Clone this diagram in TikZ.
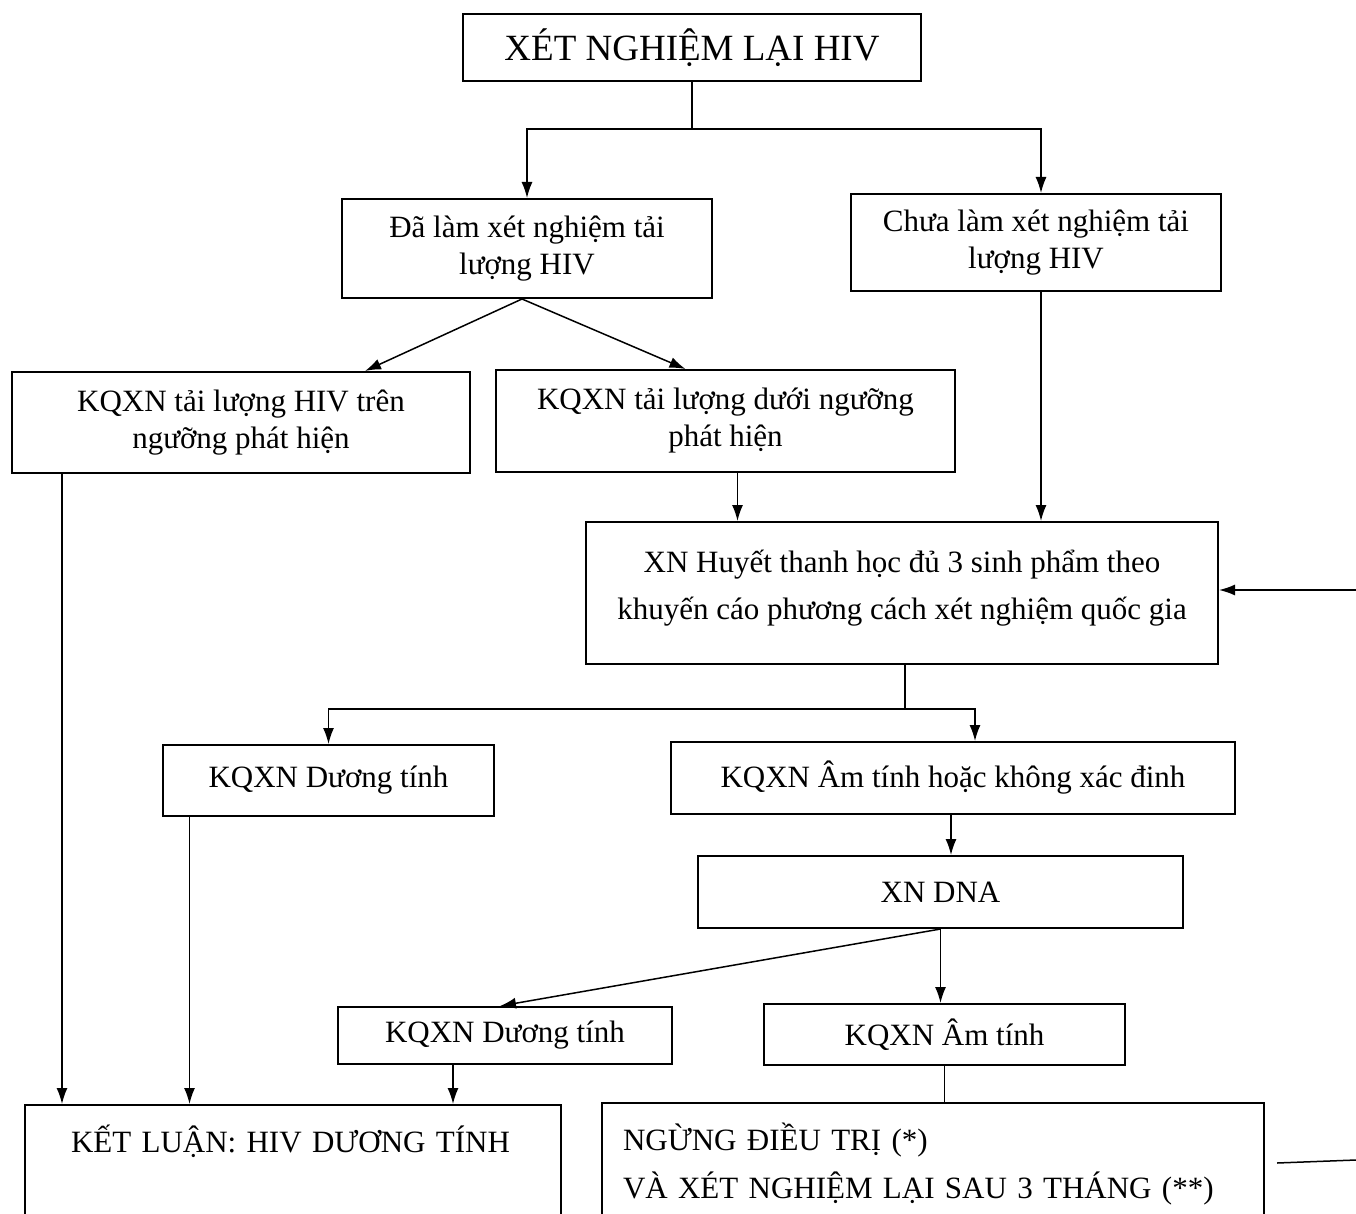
\documentclass[tikz,border=0pt]{standalone}
\usepackage{fontspec}
\setmainfont{Liberation Serif}
\usetikzlibrary{arrows.meta}

\begin{document}
\begin{tikzpicture}[x=1pt, y=-1pt]
  \tikzset{
    flowbox/.style={
      draw=black,
      line width=2pt,
      inner sep=0pt,
      align=center,
      font=\fontsize{31}{37}\selectfont
    },
    arr/.style={line width=1.5pt, -{Latex[length=16pt,width=11pt]}},
    link/.style={line width=1.5pt}
  }
  \useasboundingbox (0,0) rectangle (1356,1214);
  \clip (0,0) rectangle (1356,1214);

  \node[flowbox, minimum width=458pt, minimum height=67pt, font=\fontsize{37}{44}\selectfont] (retest) at (692,47.5) {XÉT NGHIỆM LẠI HIV};
  \node[flowbox, minimum width=370pt, minimum height=99pt] (vlDone) at (527,248.5) {Đã làm xét nghiệm tải\\lượng HIV};
  \node[flowbox, minimum width=370pt, minimum height=97pt] (vlNone) at (1036,242.5) {Chưa làm xét nghiệm tải\\lượng HIV};
  \node[flowbox, minimum width=458pt, minimum height=101pt] (vlAbove) at (241,422.5) {KQXN tải lượng HIV trên\\ngưỡng phát hiện};
  \node[flowbox, minimum width=459pt, minimum height=102pt] (vlBelow) at (725.5,421) {KQXN tải lượng dưới ngưỡng\\phát hiện};
  \node[flowbox, minimum width=632pt, minimum height=142pt, font=\fontsize{31}{47}\selectfont] (serology) at (902,593) {XN Huyết thanh học đủ 3 sinh phẩm theo\\khuyến cáo phương cách xét nghiệm quốc gia\\[-31pt]};
  \node[flowbox, minimum width=331pt, minimum height=71pt] (posA) at (328.5,780.5) {KQXN Dương tính};
  \node[flowbox, minimum width=564pt, minimum height=72pt] (negUnd) at (953,778) {KQXN Âm tính hoặc không xác đinh};
  \node[flowbox, minimum width=485pt, minimum height=72pt] (dna) at (940.5,892) {XN DNA};
  \node[flowbox, minimum width=334pt, minimum height=57pt] (posB) at (505,1035.5) {KQXN Dương tính};
  \node[flowbox, minimum width=361pt, minimum height=61pt] (neg) at (944.5,1034.5) {KQXN Âm tính};
  \node[flowbox, anchor=north west, align=left, inner xsep=46pt, inner ysep=20pt, text width=444pt, text depth=100pt] (conclude) at (24,1104) {KẾT LUẬN: HIV DƯƠNG TÍNH};
  \node[flowbox, anchor=north west, align=left, inner xsep=21pt, inner ysep=20pt, text width=620pt, text depth=60pt, font=\fontsize{31}{48}\selectfont] (stop) at (601,1102) {NGỪNG ĐIỀU TRỊ (*)\\VÀ XÉT NGHIỆM LẠI SAU 3 THÁNG (**)};

  \coordinate (fbIn) at (1356,590);
  \coordinate (fbOut) at (1356,1160);

  \draw[arr] (retest.south) -- ++(0,47) -| (vlDone.north);
  \draw[arr] (retest.south) -- ++(0,47) -| ([xshift=5pt]vlNone.north);
  \draw[arr] ([xshift=-5pt]vlDone.south) -- ([xshift=124pt]vlAbove.north);
  \draw[arr] ([xshift=-5pt]vlDone.south) -- ([xshift=-40pt]vlBelow.north);
  \draw[arr] ([xshift=5pt]vlNone.south) -- ([xshift=5pt]vlNone.south |- serology.north);
  \draw[arr] ([xshift=12pt]vlBelow.south) -- ([xshift=12pt]vlBelow.south |- serology.north);
  \draw[arr] ([xshift=-179pt]vlAbove.south) -- ([xshift=-179pt]vlAbove.south |- conclude.north);
  \draw[arr] (fbIn) -- (fbIn -| serology.east);

  \draw[arr] ([xshift=3pt]serology.south) -- ++(0,44) -| (posA.north);
  \draw[arr] ([xshift=3pt]serology.south) -- ++(0,44) -| ([xshift=22pt]negUnd.north);
  \draw[arr] ([xshift=-139pt]posA.south) -- ([xshift=-139pt]posA.south |- conclude.north);
  \draw[arr] ([xshift=-2pt]negUnd.south) -- ([xshift=-2pt]negUnd.south |- dna.north);

  \draw[arr] (dna.south) -- ([xshift=-5pt]posB.north);
  \draw[arr] (dna.south) -- (dna.south |- neg.north);
  \draw[arr] ([xshift=-52pt]posB.south) -- ([xshift=-52pt]posB.south |- conclude.north);
  \draw[link] (neg.south) -- (neg.south |- stop.north);
  \draw[link] ([xshift=12pt, yshift=-61pt]stop.north east) -- (fbOut);
\end{tikzpicture}
\end{document}
